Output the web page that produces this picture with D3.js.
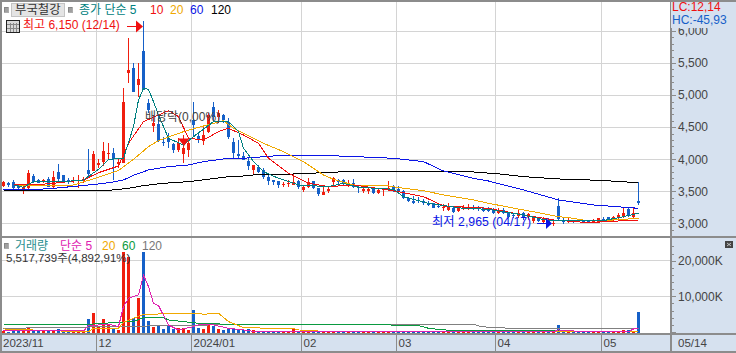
<!DOCTYPE html>
<html><head><meta charset="utf-8">
<script src="https://cdn.jsdelivr.net/npm/d3@7"></script>
<style>
html,body{margin:0;padding:0;background:#fff;overflow:hidden}
svg{display:block}
text{font-family:"Liberation Sans","Noto Sans CJK KR",sans-serif;font-size:12px}
.grid line,.mk line,.mk rect{shape-rendering:crispEdges}
</style></head><body><svg id="c" width="736" height="353"></svg>
<script>
const opens=[3582,3624,3650,3582,3520,3546,3738,3676,3650,3686,3562,3801,3749,3676,3666,3655,3655,3832,3822,3915,3962,4076,4092,3926,3936,5350,5418,5158,5688,4872,4518,4550,4274,4336,4232,4144,4082,4144,4612,4362,4290,4430,4810,4664,4690,4586,4274,4082,4056,3978,3832,3884,3832,3718,3676,3666,3603,3614,3603,3666,3520,3562,3660,3546,3447,3499,3650,3676,3671,3593,3624,3572,3499,3510,3530,3478,3520,3530,3582,3541,3510,3400,3354,3364,3348,3322,3312,3270,3239,3208,3244,3187,3244,3244,3260,3250,3239,3229,3218,3166,3208,3177,3130,3114,3166,3104,3042,3062,3026,3052,2984,3270,3052,3036,3036,3047,3031,3031,3021,3026,3073,3094,3062,3078,3094,3218,3094,3348];
const highs=[3660,3650,3676,3598,3582,3832,3764,3697,3697,3728,3816,3926,3759,3702,3718,3749,3728,4154,4134,3998,4264,4248,4170,3998,5106,5896,5496,5496,6150,4934,4690,4706,4352,4404,4248,4326,4378,4300,4898,4430,4534,4716,4898,4768,4706,4638,4326,4300,4118,4014,3910,3910,3858,3770,3676,3666,3650,3676,3780,3676,3598,3702,3660,3546,3562,3562,3728,3697,3686,3676,3697,3598,3593,3562,3541,3546,3546,3666,3598,3582,3520,3416,3426,3406,3374,3343,3312,3286,3302,3312,3250,3260,3286,3302,3281,3270,3260,3250,3234,3234,3234,3182,3166,3208,3182,3166,3104,3078,3104,3078,3042,3390,3088,3078,3052,3062,3052,3052,3073,3088,3094,3104,3114,3166,3250,3250,3234,3640];
const lows=[3562,3562,3530,3530,3458,3530,3624,3624,3624,3562,3541,3655,3624,3614,3624,3546,3624,3738,3816,3858,3894,4004,3676,3858,3936,5194,5054,4976,5080,4716,4430,4274,4206,4170,4092,4118,3946,4040,4352,4248,4222,4404,4586,4560,4560,4310,4014,4014,3988,3832,3770,3790,3686,3598,3598,3556,3572,3562,3593,3530,3494,3546,3530,3426,3442,3478,3562,3614,3582,3562,3546,3478,3478,3458,3458,3458,3426,3510,3494,3478,3374,3338,3302,3312,3286,3270,3234,3234,3198,3192,3166,3177,3208,3208,3208,3198,3182,3177,3146,3146,3146,3078,3078,3078,3052,3052,3010,3021,3010,3000,2965,3052,2990,3000,3010,3021,3005,3000,3010,3016,3042,3052,3042,3062,3078,3094,3078,3291];
const closes=[3650,3603,3546,3551,3562,3790,3640,3634,3676,3572,3718,3697,3634,3650,3676,3676,3686,3770,4082,3936,4128,4092,3998,3962,4898,5392,5054,5246,5080,4768,4560,4290,4258,4274,4144,4258,4170,4258,4534,4300,4378,4690,4664,4716,4612,4342,4092,4050,3988,3894,3910,3806,3718,3666,3650,3598,3614,3634,3650,3562,3562,3650,3546,3458,3494,3541,3707,3645,3614,3624,3562,3551,3530,3541,3478,3525,3530,3551,3510,3494,3390,3348,3312,3343,3312,3291,3244,3250,3250,3250,3177,3250,3260,3260,3229,3229,3192,3187,3156,3208,3166,3104,3114,3156,3078,3146,3094,3031,3078,3021,3010,3062,3021,3052,3021,3031,3016,3010,3057,3078,3057,3062,3094,3135,3166,3114,3166,3312];
const volumes=[293,106,387,293,293,1322,480,387,293,480,574,855,480,293,293,293,293,3663,5348,1510,3663,2259,1042,668,22570,21166,4037,9653,22570,3195,1416,1790,855,1604,855,1042,1042,668,6190,1136,855,1978,1697,855,574,1136,1136,668,574,760,574,387,250,200,160,170,200,180,760,260,300,220,180,250,200,170,280,150,160,170,180,150,130,140,120,140,110,230,170,150,260,170,150,130,140,120,150,110,130,150,170,140,120,130,110,120,150,130,120,110,140,150,120,170,160,130,150,120,140,160,170,2000,170,120,110,120,110,120,190,230,130,170,180,240,570,570,300,5517];
const ma5X=[2,4,6,12,16,19,21,24,26,27,28,29,30,31,33,36,38,42,45,47,48,50,52,55,59,65,68,71,78,80,85,92,97,104,109,112,120,124,127];
const ma5=[3598,3562,3650,3650,3676,3842,3998,4014,4508,4924,5106,5090,4898,4690,4326,4222,4352,4586,4586,4430,4170,3962,3806,3702,3598,3572,3624,3562,3530,3416,3312,3234,3218,3130,3042,3042,3042,3104,3156];
const ma10X=[2,6,10,16,19,23,25,28,33,35,37,40,43,45,48,51,53,57,61,65,70,77,80,84,88,97,104,110,117,123,127];
const ma10=[3598,3598,3624,3676,3790,3894,4248,4586,4758,4664,4326,4300,4430,4482,4378,4248,4014,3780,3624,3572,3598,3520,3478,3416,3270,3234,3130,3052,3010,3036,3052];
const ma20X=[3,10,14,19,23,26,29,31,36,40,44,46,48,52,56,60,64,66,70,77,80,84,88,94,97,104,107,111,114,117,120,127];
const ma20=[3582,3582,3598,3718,3822,3998,4196,4290,4430,4518,4602,4482,4404,4248,4118,3962,3754,3686,3598,3582,3546,3510,3442,3364,3312,3208,3166,3104,3078,3036,3042,3078];
const ma60X=[0,7,10,15,19,22,24,26,29,33,37,40,45,48,55,64,68,78,84,88,94,97,104,111,118,127];
const ma60=[3520,3530,3546,3582,3614,3645,3676,3750,3832,3884,3910,3962,4014,4014,4056,4056,4048,4014,3962,3816,3702,3660,3520,3364,3286,3234];
const ma120X=[0,18,22,25,28,32,37,42,45,48,50,55,64,70,93,95,98,104,111,119,127];
const ma120=[3510,3510,3520,3546,3588,3624,3650,3697,3728,3738,3754,3759,3790,3811,3811,3790,3780,3728,3692,3671,3634];
const vma5X=[0,5,16,17,21,23,24,25,27,28,29,30,31,33,35,38,39,42,45,48,49,52,64,96,110,111,116,125,126,127];
const vma5=[293,480,293,1790,2165,1510,7126,9466,10400,16018,12742,8062,7407,1978,574,1510,1978,1978,1042,574,293,198,105,80,80,574,105,105,850,1000];
const vma20X=[0,15,17,18,23,24,28,39,40,43,45,48,51,52,58,59,64,96,127];
const vma20=[855,106,106,1042,1042,2727,4973,5254,4973,5254,2914,1229,1229,948,948,574,200,80,150];
const vma60X=[0,17,23,26,28,32,33,36,39,45,60,77,83,85,88,96,110,127];
const vma60=[2165,2165,2727,2914,4037,4037,3382,2914,2446,2165,2000,1978,1790,1042,574,387,293,200];
const vma120X=[0,16,19,35,48,94,95,97,103,127];
const vma120=[1042,1322,1510,1790,2165,2165,1697,1322,948,948];
const monthAt=[18.5,37.5,59.5,78.5,98.5,119.5];
const monthLabels=["12","2024/01","02","03","04","05"];
const firstLabel="2023/11", lastLabel="05/14";
const priceTicks=[3000,3500,4000,4500,5000,5500,6000];
const volTicks=[10000,20000];

const svg=d3.select("#c");
const x=d3.scaleLinear().domain([0,127]).range([3.5,638.5]);
const y=d3.scaleLinear().domain([3000,6000]).range([223.3,31]);
const yv=d3.scaleLinear().domain([0,20000]).range([332,260.7]);
const RED="#f01e0e",BLUE="#1560c8",AX="#8c8c8c",BG="#d6e1ef",GRID="#d4d4d4";
const isUp=i=>closes[i]>=opens[i];
const idx=d3.range(opens.length);
const px=v=>Math.floor(v)+.5;

// panels
svg.append("rect").attr("x",671).attr("y",0).attr("width",65).attr("height",353).attr("fill",BG);
svg.append("rect").attr("x",0).attr("y",334).attr("width",671).attr("height",17).attr("fill",BG);
svg.append("rect").attr("x",0).attr("y",351).attr("width",736).attr("height",2).attr("fill","#fff");

// grid
const grid=svg.append("g").attr("class","grid").attr("stroke",GRID);
grid.selectAll(".h").data(priceTicks).join("line").attr("x1",1).attr("x2",670).attr("y1",d=>px(y(d))).attr("y2",d=>px(y(d)));
grid.selectAll(".hv").data(volTicks).join("line").attr("x1",1).attr("x2",670).attr("y1",d=>px(yv(d))).attr("y2",d=>px(yv(d)));
grid.selectAll(".v").data(monthAt).join("line").attr("x1",d=>px(x(d))).attr("x2",d=>px(x(d))).attr("y1",1).attr("y2",333);

// candles
const mk=svg.append("g").attr("class","mk");
mk.selectAll(".w").data(idx).join("line")
 .attr("x1",i=>px(x(i))).attr("x2",i=>px(x(i))).attr("y1",i=>y(highs[i])).attr("y2",i=>y(lows[i]))
 .attr("stroke",i=>isUp(i)?RED:BLUE);
mk.selectAll(".b").data(idx).join("rect")
 .attr("x",i=>Math.floor(x(i))-1).attr("width",3)
 .attr("y",i=>y(Math.max(opens[i],closes[i])))
 .attr("height",i=>Math.max(1,Math.abs(y(opens[i])-y(closes[i]))))
 .attr("fill",i=>isUp(i)?RED:BLUE);
// volume bars
mk.selectAll(".vb").data(idx).join("rect")
 .attr("x",i=>Math.floor(x(i))-1).attr("width",3)
 .attr("y",i=>yv(volumes[i])).attr("height",i=>yv(0)-yv(volumes[i])+1)
 .attr("fill",i=>isUp(i)?RED:BLUE);

// averages
function drawLine(xs,vs,scale,color,w){
  const l=d3.line().x(i=>x(xs[i])).y(i=>scale(vs[i]));
  svg.append("path").attr("d",l(d3.range(xs.length))).attr("fill","none").attr("stroke",color)
   .attr("stroke-width",w||1).attr("shape-rendering","crispEdges");
}
drawLine(ma120X,ma120,y,"#000");
drawLine(ma60X,ma60,y,"#0a14e6");
drawLine(ma20X,ma20,y,"#f0a800");
drawLine(ma10X,ma10,y,"#f01010");
drawLine(ma5X,ma5,y,"#008080");
drawLine(vma120X,vma120,yv,"#808080");
drawLine(vma60X,vma60,yv,"#0a9a40");
drawLine(vma20X,vma20,yv,"#f0a800");
drawLine(vma5X,vma5,yv,"#e020b0");

// frame
const frame=(a,b,c,d,w)=>svg.append("line").attr("x1",a).attr("y1",b).attr("x2",c).attr("y2",d).attr("stroke",AX).attr("stroke-width",w||1).attr("shape-rendering","crispEdges");
frame(0,1,736,1,2);frame(1,0,1,352,2);
frame(0,236.5,736,236.5,2);frame(0,333.5,736,333.5,2);frame(0,351.5,736,351.5,2);
frame(670.5,0,670.5,352,2);
monthAt.forEach(m=>frame(px(x(m)),334,px(x(m)),351,1));

// axes
function axis(scale,major,minor,fmt){
  const g=svg.append("g").attr("transform","translate(671,0)");
  const a=g.append("g").call(d3.axisRight(scale).tickValues(major).tickSize(5).tickPadding(2).tickFormat(fmt));
  const b=g.append("g").call(d3.axisRight(scale).tickValues(minor).tickSize(3).tickFormat(""));
  [a,b].forEach(s=>{s.select(".domain").remove();s.selectAll("line").attr("stroke",AX).attr("shape-rendering","crispEdges");});
  a.selectAll("text").attr("fill","#444").style("font-size","12px").style("font-family",'"Liberation Sans",sans-serif');
}
axis(y,priceTicks,d3.range(2900,6100,100).filter(v=>v%500),d3.format(","));
axis(yv,[0,...volTicks],d3.range(2000,26000,2000).filter(v=>v%10000),d=>d?d3.format(",")(d)+"K":"");
svg.selectAll("g.tick text").filter(function(){return this.textContent==""}).remove();
// the corner readout covers the top of the axis
svg.append("rect").attr("x",671).attr("y",2).attr("width",65).attr("height",26).attr("fill",BG);

const T=(s,xx,yy,c,size,anchor)=>svg.append("text").attr("x",xx).attr("y",yy).attr("fill",c).style("font-size",(size||12)+"px").attr("text-anchor",anchor||"start").text(s);
// x labels
T(firstLabel,3,347,"#444",11.5);
monthAt.forEach((m,i)=>T(monthLabels[i],px(x(m))+2,347,"#444",11.5));
T(lastLabel,678,347,"#444",11.5);

// top legend
const sq=(xx,yy)=>svg.append("rect").attr("x",xx).attr("y",yy).attr("width",4).attr("height",5).attr("fill","#a0a0a0").attr("stroke","#777").attr("stroke-width",.6).attr("shape-rendering","crispEdges");
sq(4,7);sq(68,7);
svg.append("rect").attr("x",11.5).attr("y",3.5).attr("width",53).attr("height",13).attr("fill","#e4e4e4").attr("stroke","#c4c4c4");
T("부국철강",15,14,"#333",12.4);
T("종가 단순 5",79,14,"#008080",12);
T("10",150,14,"#f01010");T("20",170,14,"#f0a800");T("60",190,14,"#0a14e6");T("120",211,14,"#000");
// calendar icon
const ic=svg.append("g").attr("shape-rendering","crispEdges");
ic.append("rect").attr("x",6.5).attr("y",20.5).attr("width",13).attr("height",12).attr("fill","#d8d8d8").attr("stroke","#222");
[10,13,16].forEach(v=>ic.append("line").attr("x1",v).attr("x2",v).attr("y1",23).attr("y2",32).attr("stroke","#888"));
[24,28].forEach(v=>ic.append("line").attr("x1",7).attr("x2",19).attr("y1",v).attr("y2",v).attr("stroke","#888"));
T("최고 6,150 (12/14)",23,29,"#f01010",12);
// arrows
svg.append("line").attr("x1",127).attr("x2",137).attr("y1",26.5).attr("y2",26.5).attr("stroke","#f01010").attr("shape-rendering","crispEdges");
svg.append("path").attr("d","M136,20.5L143,26.5L136,32.5Z").attr("fill","#f01010");
T("최저 2,965 (04/17)",432,226,"#0a14e6",12.3);
svg.append("line").attr("x1",537).attr("x2",547).attr("y1",223.5).attr("y2",223.5).attr("stroke","#0a14e6").attr("shape-rendering","crispEdges");
svg.append("path").attr("d","M546,218L552,223.5L546,229Z").attr("fill","#0a14e6");
// ex-dividend
svg.append("path").attr("d","M178,138.5H189.5L184,146Z").attr("fill","#f01010");
T("배당락(0,00%)",145,121,"#444",12);
// corner values
T("LC:12,14",672,11,"#f01010",12);
T("HC:-45,93",672,24,BLUE,12);
// volume legend
sq(4,243);
T("거래량",15,250,"#2a8f8f",12);
T("단순 5",60,250,"#e020b0",12);
T("20",102,250,"#f0a800");T("60",122,250,"#0a9a40");T("120",142,250,"#777");
T("5,517,739주(4,892,91%)",6,262,"#333",11.5);
// size icon
svg.append("rect").attr("x",725).attr("y",241).attr("width",8).attr("height",7).attr("fill","#444");
svg.append("path").attr("d","M727,243L731,246M731,243L727,246").attr("stroke","#ddd").attr("stroke-width",.8);
</script></body></html>
